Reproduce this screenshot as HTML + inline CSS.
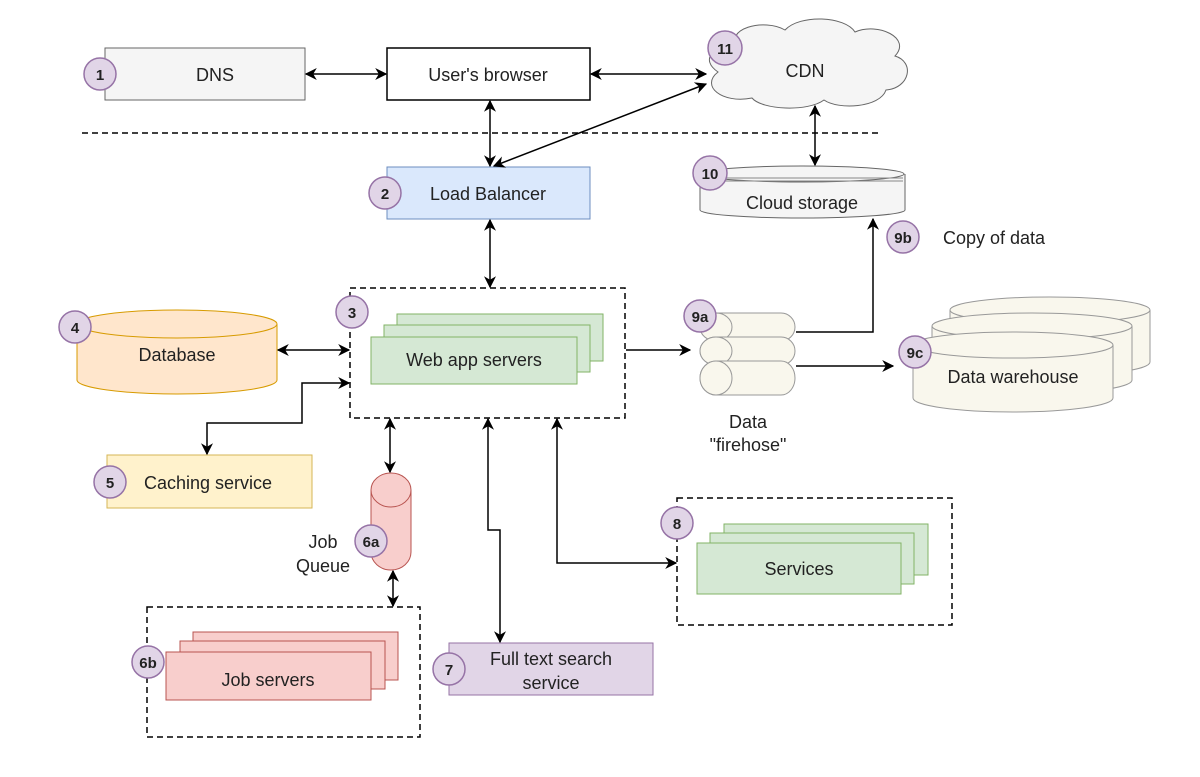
<!DOCTYPE html>
<html><head><meta charset="utf-8"><style>
html,body{margin:0;padding:0;background:#fff;}
svg{display:block;font-family:"Liberation Sans",Arial,sans-serif;}
text{font-size:18px;fill:#222;}
.b text{font-size:15px;font-weight:bold;}
</style></head><body>
<svg width="1200" height="777" viewBox="0 0 1200 777" xmlns="http://www.w3.org/2000/svg">
<defs>
<marker id="a" viewBox="0 0 10 10" refX="9" refY="5" markerWidth="12" markerHeight="12" markerUnits="userSpaceOnUse" orient="auto-start-reverse"><path d="M0,0 L10,5 L0,10 L3,5 Z" fill="#000"/></marker>
</defs>
<g stroke="#000" stroke-width="1.5" fill="none">
<line x1="82" y1="133" x2="880" y2="133" stroke-dasharray="6,4"/>
</g>
<rect x="105" y="48" width="200" height="52" fill="#f5f5f5" stroke="#666"/>
<text x="215" y="81" text-anchor="middle">DNS</text>
<rect x="387" y="48" width="203" height="52" fill="#fff" stroke="#000" stroke-width="1.5"/>
<text x="488" y="81" text-anchor="middle">User's browser</text>
<path d="M738,50 C722,28 765,18 785,30 C800,14 845,16 855,32 C878,22 912,38 895,56 C915,62 910,88 886,90 C880,108 838,110 824,100 C808,112 762,110 752,98 C722,104 700,86 718,72 C700,60 712,44 738,50 Z" fill="#f5f5f5" stroke="#666"/>
<text x="805" y="77" text-anchor="middle">CDN</text>
<rect x="387" y="167" width="203" height="52" fill="#dae8fc" stroke="#6c8ebf"/>
<text x="488" y="200" text-anchor="middle">Load Balancer</text>
<path d="M700,174 L700,210 A102,8 0 0 0 905,210 L905,174" fill="#f5f5f5" stroke="#666"/>
<ellipse cx="802" cy="174" rx="102" ry="8" fill="#f5f5f5" stroke="#666"/>
<line x1="702" y1="178" x2="903" y2="178" stroke="#888"/>
<line x1="702" y1="181" x2="903" y2="181" stroke="#888"/>
<text x="802" y="209" text-anchor="middle">Cloud storage</text>
<text x="943" y="244">Copy of data</text>
<rect x="350" y="288" width="275" height="130" fill="none" stroke="#000" stroke-width="1.5" stroke-dasharray="6,4"/>
<rect x="397" y="314" width="206" height="47" fill="#d5e8d4" stroke="#82b366"/>
<rect x="384" y="325" width="206" height="47" fill="#d5e8d4" stroke="#82b366"/>
<rect x="371" y="337" width="206" height="47" fill="#d5e8d4" stroke="#82b366"/>
<text x="474" y="366" text-anchor="middle">Web app servers</text>
<path d="M77,324 L77,380 A100,14 0 0 0 277,380 L277,324" fill="#ffe6cc" stroke="#d79b00"/>
<ellipse cx="177" cy="324" rx="100" ry="14" fill="#ffe6cc" stroke="#d79b00"/>
<text x="177" y="361" text-anchor="middle">Database</text>
<rect x="107" y="455" width="205" height="53" fill="#fff2cc" stroke="#d6b656"/>
<text x="208" y="489" text-anchor="middle">Caching service</text>
<path d="M371,490 L371,552 A20,18 0 0 0 411,552 L411,490" fill="#f8cecc" stroke="#b85450"/>
<ellipse cx="391" cy="490" rx="20" ry="17" fill="#f8cecc" stroke="#b85450"/>
<text x="323" y="548" text-anchor="middle">Job</text>
<text x="323" y="572" text-anchor="middle">Queue</text>
<rect x="147" y="607" width="273" height="130" fill="none" stroke="#000" stroke-width="1.5" stroke-dasharray="6,4"/>
<rect x="193" y="632" width="205" height="48" fill="#f8cecc" stroke="#b85450"/>
<rect x="180" y="641" width="205" height="48" fill="#f8cecc" stroke="#b85450"/>
<rect x="166" y="652" width="205" height="48" fill="#f8cecc" stroke="#b85450"/>
<text x="268" y="686" text-anchor="middle">Job servers</text>
<rect x="449" y="643" width="204" height="52" fill="#e1d5e7" stroke="#9673a6"/>
<text x="551" y="665" text-anchor="middle">Full text search</text>
<text x="551" y="689" text-anchor="middle">service</text>
<rect x="677" y="498" width="275" height="127" fill="none" stroke="#000" stroke-width="1.5" stroke-dasharray="6,4"/>
<rect x="724" y="524" width="204" height="51" fill="#d5e8d4" stroke="#82b366"/>
<rect x="710" y="533" width="204" height="51" fill="#d5e8d4" stroke="#82b366"/>
<rect x="697" y="543" width="204" height="51" fill="#d5e8d4" stroke="#82b366"/>
<text x="799" y="575" text-anchor="middle">Services</text>
<g fill="#f9f7ed" stroke="#999">
<path d="M716,313 L781,313 A14,14 0 0 1 781,341 L716,341 A16,14 0 0 1 716,313 Z"/><ellipse cx="716" cy="327" rx="16" ry="14"/>
<path d="M716,337 L781,337 A14,14 0 0 1 781,365 L716,365 A16,14 0 0 1 716,337 Z"/><ellipse cx="716" cy="351" rx="16" ry="14"/>
<path d="M716,361 L781,361 A14,17 0 0 1 781,395 L716,395 A16,17 0 0 1 716,361 Z"/><ellipse cx="716" cy="378" rx="16" ry="17"/>
</g>
<text x="748" y="428" text-anchor="middle">Data</text>
<text x="748" y="451" text-anchor="middle">"firehose"</text>
<g fill="#f9f7ed" stroke="#999">
<path d="M950,310 L950,362 A100,14 0 0 0 1150,362 L1150,310"/><ellipse cx="1050" cy="310" rx="100" ry="13"/>
<path d="M932,326 L932,380 A100,14 0 0 0 1132,380 L1132,326"/><ellipse cx="1032" cy="326" rx="100" ry="13"/>
<path d="M913,345 L913,398 A100,14 0 0 0 1113,398 L1113,345"/><ellipse cx="1013" cy="345" rx="100" ry="13"/>
</g>
<text x="1013" y="383" text-anchor="middle">Data warehouse</text>
<g stroke="#000" stroke-width="1.5" fill="none" marker-start="url(#a)" marker-end="url(#a)">
<line x1="306" y1="74" x2="386" y2="74"/>
<line x1="591" y1="74" x2="706" y2="74"/>
<line x1="490" y1="101" x2="490" y2="166"/>
<line x1="706" y1="84" x2="494" y2="166"/>
<line x1="815" y1="106" x2="815" y2="165"/>
<line x1="490" y1="220" x2="490" y2="287"/>
<line x1="278" y1="350" x2="349" y2="350"/>
<polyline points="349,383 302,383 302,423 207,423 207,454"/>
<line x1="390" y1="419" x2="390" y2="472"/>
<line x1="393" y1="571" x2="393" y2="606"/>
<polyline points="488,419 488,530 500,530 500,642"/>
<polyline points="557,419 557,563 676,563"/>
</g>
<g stroke="#000" stroke-width="1.5" fill="none" marker-end="url(#a)">
<line x1="626" y1="350" x2="690" y2="350"/>
<polyline points="796,332 873,332 873,219"/>
<line x1="796" y1="366" x2="893" y2="366"/>
</g>
<g class="b" fill="#e1d5e7" stroke="#9673a6" stroke-width="1.5">
<circle cx="100" cy="74" r="16"/><circle cx="385" cy="193" r="16"/><circle cx="725" cy="48" r="17"/>
<circle cx="710" cy="173" r="17"/><circle cx="903" cy="237" r="16"/><circle cx="352" cy="312" r="16"/>
<circle cx="75" cy="327" r="16"/><circle cx="110" cy="482" r="16"/><circle cx="371" cy="541" r="16"/>
<circle cx="148" cy="662" r="16"/><circle cx="449" cy="669" r="16"/><circle cx="677" cy="523" r="16"/>
<circle cx="700" cy="316" r="16"/><circle cx="915" cy="352" r="16"/>
<g stroke="none" text-anchor="middle">
<text x="100" y="80">1</text><text x="385" y="199">2</text><text x="725" y="54">11</text>
<text x="710" y="179">10</text><text x="903" y="243">9b</text><text x="352" y="318">3</text>
<text x="75" y="333">4</text><text x="110" y="488">5</text><text x="371" y="547">6a</text>
<text x="148" y="668">6b</text><text x="449" y="675">7</text><text x="677" y="529">8</text>
<text x="700" y="322">9a</text><text x="915" y="358">9c</text>
</g></g>
</svg>
</body></html>
